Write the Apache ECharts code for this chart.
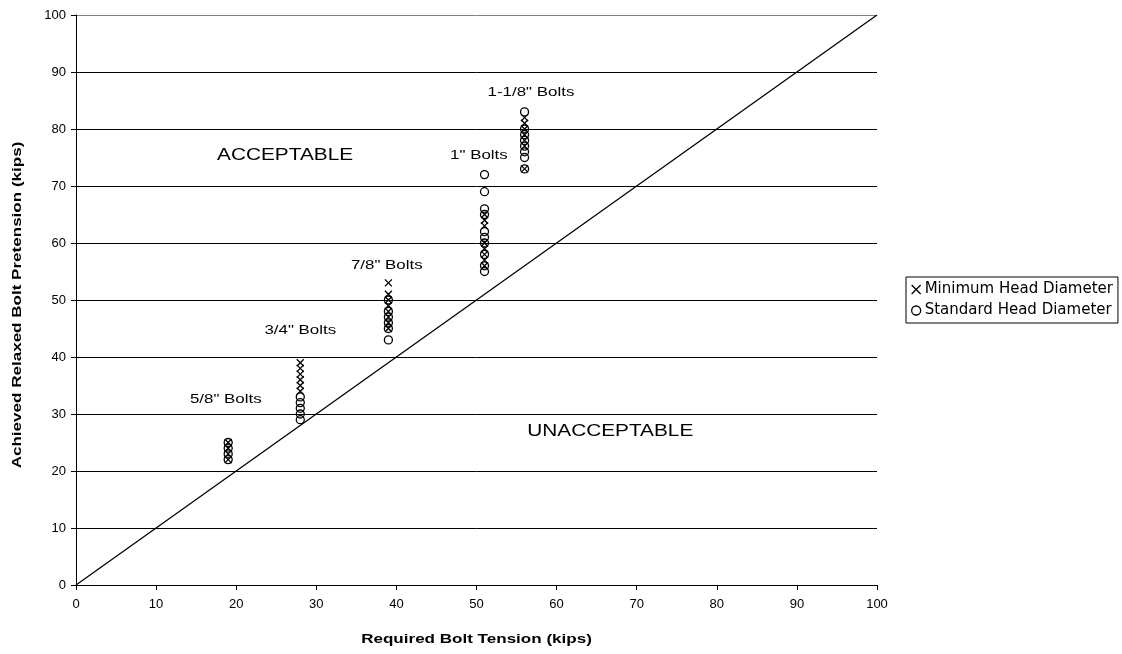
<!DOCTYPE html>
<html>
<head>
<meta charset="utf-8">
<script src="https://cdn.jsdelivr.net/npm/echarts@6/dist/echarts.min.js"></script>
<style>
  html, body { margin: 0; padding: 0; background: #fff; }
  #chart { width: 1122px; height: 654px; }
</style>
</head>
<body>
<div id="chart"></div>
<script>
// Required bolt tension (kips) for each bolt size
const boltSizes = ['5/8" Bolts', '3/4" Bolts', '7/8" Bolts', '1" Bolts', '1-1/8" Bolts'];
const requiredTension = [19, 28, 39, 51, 56];

// Achieved relaxed pretension (kips) per bolt size, minimum head diameter
const minHead = [
  [22, 23, 24, 25],
  [34, 35, 36, 37, 38, 39],
  [45, 46, 47, 48, 49, 50, 51, 53],
  [56, 57, 58, 59, 60, 63, 64, 65],
  [73, 77, 78, 79, 80, 81, 82]
];

// Achieved relaxed pretension (kips) per bolt size, standard head diameter
const stdHead = [
  [22, 23, 24, 25],
  [29, 30, 31, 32, 33],
  [43, 45, 46, 47, 48, 50],
  [55, 56, 58, 60, 61, 62, 65, 66, 69, 72],
  [73, 75, 76, 77, 78, 79, 80, 83]
];

// Where each bolt-size caption sits, in chart units (tension, pretension)
const boltLabelAnchors = [[18.7, 32.5], [28, 44.6], [38.8, 56], [50.3, 75.4], [56.8, 86.5]];

// Region captions and their anchors in chart units
const regionNames = ['ACCEPTABLE', 'UNACCEPTABLE'];
const regionAnchors = [[26.1, 75.4], [66.7, 27.0]];

const axisTicks = [0, 10, 20, 30, 40, 50, 60, 70, 80, 90, 100];
const xTitle = 'Required Bolt Tension (kips)';
const yTitle = 'Achieved Relaxed Bolt Pretension (kips)';

function pairs(values) {
  const out = [];
  values.forEach((list, i) => list.forEach(v => out.push([requiredTension[i], v])));
  return out;
}

const crossPath = 'path://M0,0L10,10M10,0L0,10';
const font = 'Liberation Sans, Arial, sans-serif';
const stretch = 1.3;        // captions use a horizontally widened face
const titleStretch = 1.42;  // axis titles are widened a little more

const chart = echarts.init(document.getElementById('chart'), null, { renderer: 'canvas' });

chart.setOption({
  animation: false,
  backgroundColor: '#fff',
  textStyle: { fontFamily: font },
  grid: { left: 76, right: 245, top: 15, bottom: 69 },
  legend: {
    left: 906, top: 277,
    orient: 'vertical',
    borderColor: '#000', borderWidth: 1,
    padding: [5, 5, 5, 5],
    itemGap: 6,
    itemWidth: 9, itemHeight: 9,
    textStyle: { fontFamily: 'DejaVu Sans, sans-serif', fontSize: 15, color: '#000', padding: [0, 0, 0, -1] },
    data: [
      { name: 'Minimum Head Diameter', icon: crossPath,
        itemStyle: { color: 'transparent', borderColor: '#000', borderWidth: 1.3 } },
      { name: 'Standard Head Diameter', icon: 'circle',
        itemStyle: { color: 'transparent', borderColor: '#000', borderWidth: 1.3 } }
    ]
  },
  xAxis: {
    type: 'value', min: 0, max: 100, interval: 10,
    axisLine: { show: true, onZero: false, lineStyle: { color: '#000', width: 1 } },
    axisTick: { show: true, length: 5, lineStyle: { color: '#000' } },
    axisLabel: { fontFamily: font, fontSize: 13, color: '#000', margin: 13,
      formatter: v => axisTicks.includes(v) ? String(v) : '' },
    splitLine: { show: false }
  },
  yAxis: {
    type: 'value', min: 0, max: 100, interval: 10,
    axisLine: { show: true, onZero: false, lineStyle: { color: '#000', width: 1 } },
    axisTick: { show: true, length: 5, lineStyle: { color: '#000' } },
    axisLabel: { fontFamily: font, fontSize: 13, color: '#000', margin: 10,
      formatter: v => axisTicks.includes(v) ? String(v) : '' },
    splitLine: { show: true, lineStyle: {
      color: ['#000', '#000', '#000', '#000', '#000', '#000', '#000', '#000', '#000', '#000', '#808080'],
      width: 1 } }
  },
  series: [
    {
      name: 'Diagonal',
      type: 'line',
      data: [[0, 0], [100, 100]],
      symbol: 'none',
      silent: true,
      lineStyle: { color: '#000', width: 1.3 },
      z: 3
    },
    {
      name: 'Minimum Head Diameter',
      type: 'scatter',
      data: pairs(minHead),
      symbol: crossPath,
      symbolSize: 7,
      itemStyle: { color: 'transparent', borderColor: '#000', borderWidth: 1.3, opacity: 1 },
      z: 4
    },
    {
      name: 'Standard Head Diameter',
      type: 'scatter',
      data: pairs(stdHead),
      symbol: 'circle',
      symbolSize: 8,
      itemStyle: { color: 'transparent', borderColor: '#000', borderWidth: 1.3, opacity: 1 },
      z: 4
    }
  ]
});

// Captions placed from chart units through the grid's own scales
function caption(anchor, text, size) {
  const p = chart.convertToPixel({ gridIndex: 0 }, anchor);
  return {
    type: 'text',
    x: p[0], y: p[1],
    scaleX: stretch,
    silent: true,
    z: 10,
    style: {
      text: text,
      fill: '#000',
      font: size + 'px ' + font,
      textAlign: 'center',
      textVerticalAlign: 'middle'
    }
  };
}

const graphics = [];
boltSizes.forEach((s, i) => graphics.push(caption(boltLabelAnchors[i], s, 13)));
regionNames.forEach((s, i) => graphics.push(caption(regionAnchors[i], s, 16)));

// Axis titles, centred on each axis
const xMid = chart.convertToPixel({ gridIndex: 0 }, [50, 0]);
const yMid = chart.convertToPixel({ gridIndex: 0 }, [0, 50]);
graphics.push({
  type: 'text', x: xMid[0], y: 640, scaleX: titleStretch, silent: true,
  style: { text: xTitle, fill: '#000', font: 'bold 12px ' + font,
    textAlign: 'center', textVerticalAlign: 'middle' }
});
graphics.push({
  type: 'text', x: 18, y: yMid[1] + 5, rotation: Math.PI / 2, scaleX: titleStretch, silent: true,
  style: { text: yTitle, fill: '#000', font: 'bold 12px ' + font,
    textAlign: 'center', textVerticalAlign: 'middle' }
});

chart.setOption({ graphic: graphics });
</script>
</body>
</html>
